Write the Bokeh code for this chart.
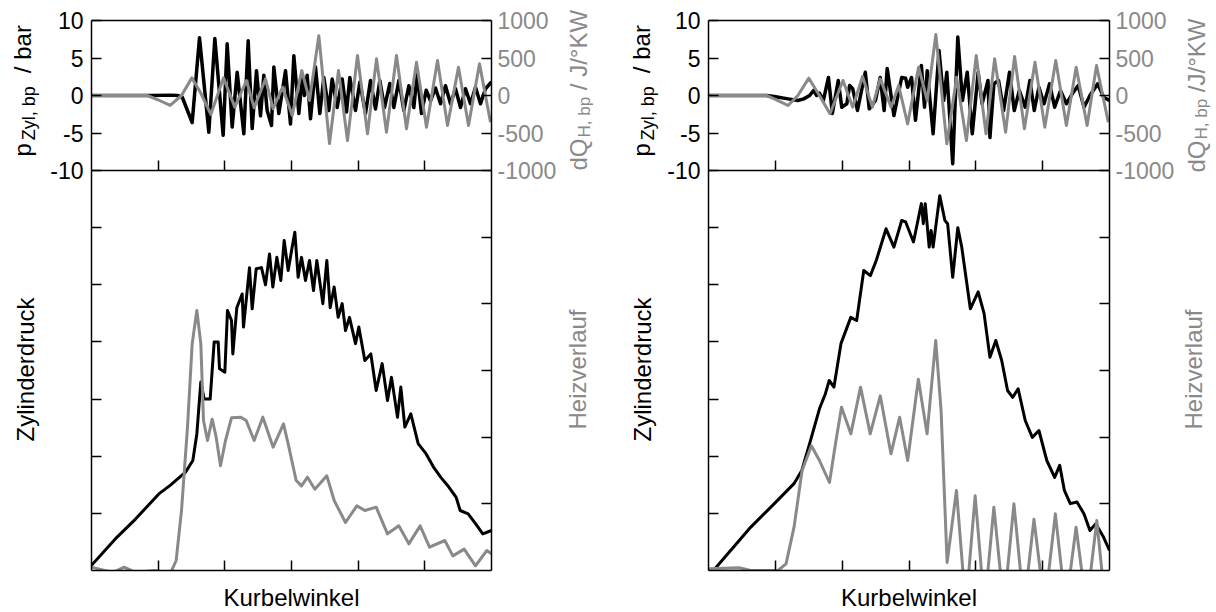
import math
from bokeh.plotting import figure
from bokeh.models import Range1d, LinearAxis, FixedTicker, Label
from bokeh.layouts import row
from bokeh.embed import file_html
from bokeh.resources import INLINE

FONT = "Liberation Sans"
GRAY = "#898989"

# ---------------- data (crank angle in arbitrary degrees 0..60) ----------------
# left panel, top: band-pass cylinder pressure [bar] and band-pass heat release [J/degKW]
tl_p_x = [0, 8.85, 11.85, 12.9, 13.6, 15.1, 16.2, 17.6, 18.5, 19.75, 20.35, 21.1, 21.85, 22.85, 23.5,
          24.1, 24.75, 25.35, 25.85, 26.35, 27.0, 27.35, 28.1, 29.1, 29.85, 30.35, 31.1, 31.6, 31.95, 32.35,
          32.85, 33.6, 34.25, 34.85, 35.6, 36.1, 36.85, 37.6, 38.25, 38.75, 39.6, 40.25, 41.1, 41.85, 42.6,
          43.25, 43.95, 44.75, 45.35, 46.1, 46.85, 47.6, 48.35, 48.85, 49.5, 50.2, 50.85, 51.6, 52.35, 53.1,
          53.85, 54.6, 55.35, 56.1, 56.85, 57.6, 58.35, 59.1, 60]
tl_p_v = [0, 0, 0.05, 0, -0.2, -3.6, 7.7, -4.9, 7.6, -5.3, 6.9, -4.2, 3.1, -5.1, 7.3,
          -4.4, 3.3, -2.7, 2.7, -2.0, -4.0, 3.8, -2.4, 3.3, -3.8, 5.3, -2.4, 2.2, 0, 2.7,
          -3.1, 3.8, -2.4, 2.4, -2.0, 2.2, -1.6, 2.2, -2.2, 2.4, -2.0, 1.8, -2.4, 2.0, -1.8,
          2.0, -1.6, 1.6, -1.6, 2.0, -2.0, 1.3, -1.6, 2.9, -2.4, 0.7, -0.7, 1.0, -1.1, 1.3,
          -1.1, 0.9, -1.6, 0.9, -1.1, 1.1, -1.1, 0.9, 1.8]
tl_h_x = [0, 8.35, 10.05, 11.8, 13.5, 15.05, 16.35, 17.9, 19.8, 21.5, 23.25, 24.4, 26.1, 27.25, 28.65,
          30.1, 31.55, 32.7, 34.1, 35.7, 37.05, 38.4, 39.9, 41.4, 42.75, 44.25, 45.75, 47.25, 48.75, 50.25,
          51.9, 53.4, 55.05, 56.55, 58.2, 59.85]
tl_h_v = [0, 0, -60, -133, 0, 235, 40, -252, 235, -155, 200, -164, 221, -177, 110,
          -265, 332, -66, 796, -640, 333, -600, 533, -511, 489, -489, 533, -444, 444, -422,
          467, -400, 378, -400, 422, -356]

# left panel, bottom: cylinder pressure and heat release
bl_p_x = [0, 3.8, 6.6, 10.1, 11.8, 14.1, 15.2, 15.8, 16.4, 16.9, 17.8, 18.4, 19.0, 19.2, 20.0,
          20.4, 21.0, 21.2, 21.8, 22.6, 22.8, 23.7, 24.1, 24.7, 25.5, 26.1, 26.7, 27.2, 27.8, 28.4,
          28.9, 29.5, 30.1, 30.5, 31.0, 31.5, 32.1, 32.7, 33.3, 33.8, 34.7, 35.3, 35.8, 36.4, 37.0,
          37.6, 38.1, 38.7, 39.6, 40.1, 41.0, 41.9, 42.7, 43.6, 44.4, 45.0, 45.9, 46.4, 47.0, 47.9,
          49.0, 50.2, 51.3, 52.4, 53.6, 54.7, 55.3, 56.5, 57.6, 58.7, 60]
bl_p_v = [0.9, 5.8, 9.0, 13.4, 14.9, 17.2, 19.25, 23.9, 33.0, 30.0, 30.0, 40.0, 40.0, 35.3, 34.7,
          45.5, 43.75, 37.9, 46.0, 48.4, 42.6, 53.0, 45.8, 52.8, 53.0, 50.0, 55.4, 49.6, 54.8, 50.75,
          57.75, 52.5, 56.6, 59.2, 51.3, 54.8, 50.75, 54.25, 49.0, 54.25, 46.7, 54.25, 46.0, 49.6, 44.3,
          46.7, 42.0, 44.3, 39.7, 42.6, 36.75, 37.9, 31.5, 36.2, 29.75, 33.8, 26.8, 32.1, 25.1, 27.4,
          22.2, 20.4, 18.1, 16.3, 14.6, 12.8, 10.5, 9.9, 8.2, 6.4, 7.0]
bl_h_x = [0, 3.2, 4.9, 6.6, 9.5, 11.8, 12.7, 13.5, 14.4, 15.1, 15.8, 16.4, 16.8, 17.4, 18.1,
          18.7, 19.35, 20.1, 21.0, 22.4, 23.2, 24.4, 25.7, 27.25, 28.8, 29.5, 30.7, 31.5, 32.4, 33.5,
          35.3, 36.4, 38.1, 39.8, 41.0, 42.7, 44.4, 46.1, 47.6, 49.3, 50.7, 53.0, 54.2, 55.9, 57.6,
          59.3, 60]
bl_h_v = [5, -3, 5, -3, 0, -5, 15, 90, 215, 340, 390, 340, 225, 195, 227,
          200, 157, 195, 229, 230, 225, 195, 230, 185, 220, 190, 135, 127, 140, 122,
          142, 105, 72, 97, 90, 95, 55, 67, 40, 67, 35, 45, 22, 32, 7,
          30, 25]

# right panel, top
tr_p_x = [0, 8.68, 9.85, 11.9, 13.37, 14.25, 15.13, 15.72, 16.19, 16.6, 17.18, 17.95, 18.53, 19.41, 19.94,
          20.7, 21.11, 21.58, 22.29, 23.46, 24.05, 24.98, 25.69, 26.28, 26.74, 27.74, 28.91, 29.5, 29.79, 30.38,
          30.97, 31.85, 32.32, 32.73, 33.61, 34.49, 35.19, 35.66, 36.54, 37.3, 38.0, 38.71, 39.47, 40.35, 40.94,
          41.82, 42.11, 42.7, 43.4, 44.16, 45.04, 45.75, 46.51, 47.39, 48.09, 48.74, 49.44, 50.2, 51.03, 51.79,
          52.67, 53.55, 54.43, 55.31, 56.19, 57.07, 58.24, 59.12, 60]
tr_p_v = [0, 0, -0.13, -0.45, -0.67, -0.45, 0, 0.67, 0, 0.31, -0.67, 2.4, -2.4, 2.0, -1.56,
          -1.1, 1.33, 0.89, -2.0, 3.1, -1.78, -0.67, 2.4, -2.0, 3.6, -2.67, 2.4, 2.3, 1.1, 2.4,
          -3.3, 4.0, -1.56, 3.3, -5.1, 6.0, -0.67, 3.1, -9.1, 7.8, -0.67, 3.1, -5.1, 3.1, -1.1,
          2.0, -5.6, 1.56, 2.0, -2.0, 3.1, -2.0, 0.67, -1.56, 2.0, -2.0, 1.1, -1.1, 1.56, -1.56,
          0.67, -1.1, 0.22, 1.33, -1.56, 0, 1.56, -0.22, -0.67]
tr_h_x = [0, 8.68, 9.85, 11.9, 13.37, 15.01, 16.6, 18.18, 20.12, 21.58, 23.05, 24.52, 25.69, 27.33, 28.45,
          29.79, 31.44, 32.73, 34.02, 35.66, 37.12, 38.59, 40.06, 41.52, 42.81, 44.46, 45.8, 47.27, 48.85, 50.32,
          51.96, 53.55, 55.01, 56.65, 58.06, 59.82]
tr_h_v = [0, 0, -44, -133, 0, 231, 0, -244, 200, -155, 253, -155, 222, -155, 133,
          -378, 378, -67, 813, -644, 244, -600, 533, -511, 489, -489, 520, -444, 444, -422,
          467, -400, 378, -400, 400, -356]

# right panel, bottom
br_p_x = [0, 6.33, 9.85, 12.79, 13.96, 15.13, 16.6, 17.48, 18.06, 18.77, 19.82, 21.29, 22.17, 23.23, 24.22,
          25.1, 26.57, 27.74, 28.91, 29.5, 30.67, 31.85, 32.14, 32.43, 33.02, 33.31, 33.61, 34.6, 35.37, 35.78,
          36.54, 37.3, 37.89, 39.18, 40.35, 41.23, 42.11, 42.99, 43.87, 44.75, 45.51, 46.33, 47.39, 48.45, 49.44,
          50.62, 51.79, 52.55, 53.25, 54.13, 55.13, 56.19, 57.07, 57.95, 59.12, 60]
br_p_v = [-1.0, 7.6, 11.7, 15.2, 17.5, 22.2, 28.3, 30.9, 33.25, 32.1, 39.7, 44.3, 43.75, 52.5, 51.6,
          54.25, 59.8, 56.6, 61.25, 61.0, 57.5, 64.2, 60.7, 64.2, 56.6, 59.5, 56.6, 65.6, 61.25, 60.7,
          51.3, 60.0, 56.6, 45.8, 48.75, 45.0, 37.3, 40.25, 36.75, 31.5, 30.3, 31.8, 26.25, 23.3, 24.5,
          19.25, 16.3, 18.4, 14.0, 11.7, 12.0, 9.9, 7.0, 8.2, 5.8, 3.5]
br_h_x = [0, 4.6, 6.3, 10.4, 11.6, 12.8, 14.0, 15.4, 16.6, 18.1, 19.0, 19.9, 21.3, 22.75, 24.2,
          25.7, 27.3, 28.6, 29.8, 31.4, 32.7, 34.0, 34.8, 35.7, 37.1, 38.5, 39.9, 41.3, 42.7, 44.2,
          45.7, 47.2, 48.7, 50.3, 51.9, 53.45, 55.0, 56.55, 58.1, 59.4, 60]
br_h_v = [2.5, 4, 0, 0, 10, 65, 150, 187, 165, 132, 190, 245, 205, 275, 205,
          262, 175, 230, 165, 287, 205, 345, 240, 12, 120, -55, 112, -55, 95, -55,
          100, -55, 77, -55, 85, -55, 65, -55, 75, -55, -30]

# axis ticks / ranges
x_ticks = [10, 20, 30, 40, 50]
top_p_ticks = [-10, -5, 0, 5, 10]
top_p_labels = ["-10", "-5", "0", "5", "10"]
top_h_ticks = [-1000, -500, 0, 500, 1000]
top_h_labels = ["-1000", "-500", "0", "500", "1000"]
bot_p_ticks = [10, 20, 30, 40, 50, 60]
bot_h_ticks = [100, 200, 300, 400, 500]
X_RANGE = (0, 60)
TOP_P = (-10, 10)
TOP_H = (-1000, 1000)
BOT_P = (0, 70)
BOT_H = (0, 600)

# ---------------- layout (pixels) ----------------
FRAME_H = 570      # frame spans canvas y 0..570
TOP_Y0 = 20        # upper plot starts 20 px below the frame top
SPLIT = 170        # upper plot ends / lower plot starts
BOTTOM_BORDER = 42


def stacked_range(lo, hi, y_top_px, y_bot_px):
    """Range1d whose values lo..hi occupy the pixel rows y_bot_px..y_top_px of the frame."""
    k = (hi - lo) / float(y_bot_px - y_top_px)
    return Range1d(lo - (FRAME_H - y_bot_px) * k, hi + y_top_px * k)


WID = {'p': 556, 'Z': 611, 'y': 500, 'l': 222, ',': 278, ' ': 278, 'b': 556, '/': 278, 'a': 556,
       'r': 333, 'd': 556, 'Q': 778, 'H': 722, 'J': 500, '\u00b0': 400, 'K': 667, 'W': 944}


def tw(s, size):
    return sum(WID.get(c, 556) for c in s) / 1000.0 * size


def style_axis(ax, labels=None, color="black", standoff=8):
    ax.major_tick_in = 10
    ax.major_tick_out = 0
    ax.minor_tick_in = 0
    ax.minor_tick_out = 0
    ax.major_tick_line_color = "black"
    ax.major_tick_line_width = 1.5
    ax.axis_line_color = "black"
    ax.axis_line_width = 1.5
    ax.major_label_text_font = FONT
    ax.major_label_text_color = color
    if labels is None:
        ax.major_label_overrides = {t: "" for t in ax.ticker.ticks}
        ax.major_label_text_font_size = "0px"
        ax.major_label_standoff = 0
    else:
        ax.major_label_overrides = dict(zip(ax.ticker.ticks, labels))
        ax.major_label_text_font_size = "23px"
        ax.major_label_standoff = standoff


def label_fig(width):
    f = figure(width=width, height=FRAME_H + BOTTOM_BORDER, output_backend="svg", toolbar_location=None,
               title=None, x_range=Range1d(0, 1), y_range=Range1d(0, 1),
               x_axis_location=None, y_axis_location=None,
               min_border_left=0, min_border_right=0, min_border_top=0, min_border_bottom=BOTTOM_BORDER)
    f.grid.visible = False
    f.outline_line_color = None
    f.background_fill_color = "white"
    f.border_fill_color = "white"
    return f


def vlabel(fig, parts, x0, y_canvas, color):
    y = FRAME_H - y_canvas
    for text, size, dx, gap in parts:
        y += gap
        fig.add_layout(Label(x=x0 + dx, y=y, x_units="screen", y_units="screen", text=text,
                             angle=math.pi / 2, text_font=FONT, text_font_size=f"{size}px",
                             text_color=color, text_align="left", text_baseline="alphabetic"))
        y += tw(text, size)


def single_vlabel(fig, text, x, y_canvas, color):
    fig.add_layout(Label(x=x, y=FRAME_H - y_canvas, x_units="screen", y_units="screen", text=text,
                         angle=math.pi / 2, text_font=FONT, text_font_size="24px", text_color=color,
                         text_align="center", text_baseline="alphabetic"))


def make_panel(tpx, tpv, thx, thv, bpx, bpv, bhx, bhv, bl, fw, br, wl, wr, lab):
    ptop = stacked_range(TOP_P[0], TOP_P[1], TOP_Y0, SPLIT)
    p = figure(frame_width=fw, frame_height=FRAME_H, output_backend="svg", toolbar_location=None,
               title=None, x_range=Range1d(*X_RANGE), y_range=ptop,
               x_axis_location=None, y_axis_location=None,
               min_border_left=bl, min_border_right=br, min_border_top=0, min_border_bottom=BOTTOM_BORDER)
    htop = stacked_range(TOP_H[0], TOP_H[1], TOP_Y0, SPLIT)
    p.extra_y_ranges = {
        "htop": htop,
        "pbot": stacked_range(BOT_P[0], BOT_P[1], SPLIT, FRAME_H),
        "hbot": stacked_range(BOT_H[0], BOT_H[1], SPLIT, FRAME_H),
    }
    p.grid.visible = False
    p.outline_line_color = None
    p.background_fill_color = "white"
    p.border_fill_color = "white"

    # upper plot axes (frame lines come from the axis lines, bounded to the plotted area)
    ax = LinearAxis(ticker=FixedTicker(ticks=top_p_ticks), bounds=(ptop.start, TOP_P[1]))
    style_axis(ax, top_p_labels)
    p.add_layout(ax, "left")
    ax = LinearAxis(y_range_name="htop", ticker=FixedTicker(ticks=top_h_ticks), bounds=(htop.start, TOP_H[1]))
    style_axis(ax, top_h_labels, color=GRAY, standoff=6)
    p.add_layout(ax, "right")
    ax = LinearAxis(fixed_location=TOP_P[1], ticker=FixedTicker(ticks=[]))
    style_axis(ax)
    p.add_layout(ax, "above")
    ax = LinearAxis(fixed_location=TOP_P[0], ticker=FixedTicker(ticks=x_ticks))
    style_axis(ax)
    p.add_layout(ax, "below")
    # lower plot axes
    ax = LinearAxis(ticker=FixedTicker(ticks=x_ticks), axis_label="Kurbelwinkel")
    style_axis(ax)
    ax.axis_label_text_font = FONT
    ax.axis_label_text_font_size = "24px"
    ax.axis_label_text_font_style = "normal"
    ax.axis_label_text_color = "black"
    ax.axis_label_standoff = 13
    p.add_layout(ax, "below")
    ax = LinearAxis(y_range_name="pbot", fixed_location=X_RANGE[0], ticker=FixedTicker(ticks=bot_p_ticks))
    style_axis(ax)
    ax.axis_line_color = None
    p.add_layout(ax, "left")
    ax = LinearAxis(y_range_name="hbot", fixed_location=X_RANGE[1], ticker=FixedTicker(ticks=bot_h_ticks))
    style_axis(ax)
    ax.axis_line_color = None
    p.add_layout(ax, "right")

    # curves
    p.line(tpx, tpv, line_color="black", line_width=3.5, line_join="round")
    p.line(thx, thv, y_range_name="htop", line_color=GRAY, line_width=3, line_join="round")
    p.line(bpx, bpv, y_range_name="pbot", line_color="black", line_width=3, line_join="round")
    p.line(bhx, bhv, y_range_name="hbot", line_color=GRAY, line_width=3, line_join="round")

    # side label strips
    fl = label_fig(wl)
    vlabel(fl, [("p", 24, 0, 0), ("Zyl, bp", 18, 6, 3), ("/ bar", 24, 0, 13)],
           lab["p_x"], 157, "black")
    single_vlabel(fl, "Zylinderdruck", lab["z_x"], 370, "black")
    fr = label_fig(wr)
    vlabel(fr, [("dQ", 24, 0, 0), ("H, bp", 17, lab["sub_dx"], 1), (lab["dq_tail"], 24, 0, tw(" ", 24))],
           lab["dq_x"], lab["dq_y"], GRAY)
    single_vlabel(fr, "Heizverlauf", lab["h_x"], 370, GRAY)
    return [fl, p, fr]


left = make_panel(tl_p_x, tl_p_v, tl_h_x, tl_h_v, bl_p_x, bl_p_v, bl_h_x, bl_h_v,
                  46, 400, 72, 45, 45,
                  dict(p_x=22, dq_x=15, sub_dx=6, dq_y=171, dq_tail="/ J/\u00b0KW", z_x=25, h_x=14))
right = make_panel(tr_p_x, tr_p_v, tr_h_x, tr_h_v, br_p_x, br_p_v, br_h_x, br_h_v,
                   46, 401, 72, 54, 35,
                   dict(p_x=33, dq_x=15, sub_dx=5, dq_y=173, dq_tail="/J/\u00b0KW", z_x=34, h_x=12))

layout = row(left + right)
open("out.html", "w").write(file_html(layout, INLINE))
